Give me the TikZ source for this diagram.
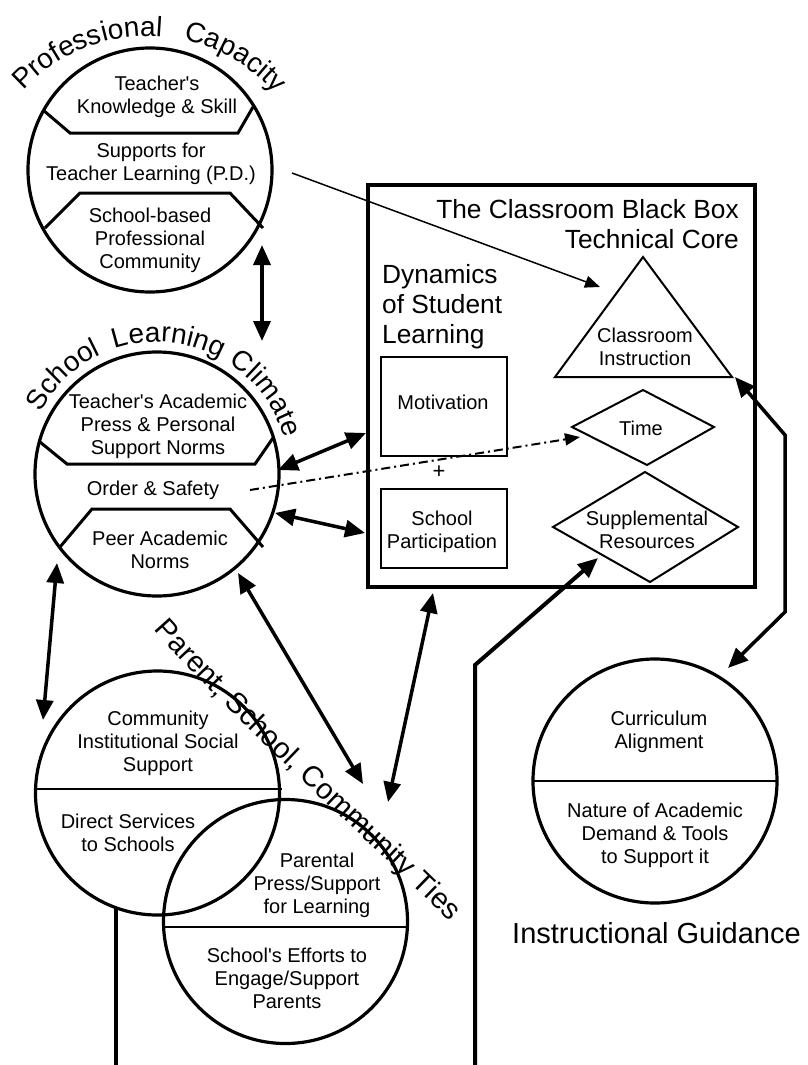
\documentclass[tikz,border=0pt]{standalone}
\usepackage{fontspec}
\setmainfont{Liberation Sans}
\usetikzlibrary{arrows.meta,decorations.text}

\newcommand\bodyfont{\fontsize{20}{23}\selectfont}
\newcommand\titlefont{\fontsize{26.3}{30}\selectfont}
\newcommand\labelfont{\fontsize{29}{34}\selectfont}
\newcommand\arcfont{\fontsize{28}{34}\selectfont}
\newcommand\bodystrut{\rule{0pt}{15pt}}
\newcommand\titlestrut{\rule{0pt}{20pt}}
\newcommand\apos{\textquotesingle}

\begin{document}
\begin{tikzpicture}[x=1pt,y=1pt,
  ring/.style={circle, draw, line width=3.2pt, minimum size=244pt, inner sep=0pt},
  seam/.style={line width=3pt, line join=miter},
  split/.style={line width=2pt},
  txt/.style={font=\bodyfont, align=center, anchor=north, inner sep=0pt},
  shapeline/.style={line width=2pt, line join=miter},
  boxline/.style={line width=2.5pt},
  both/.style={line width=3.5pt, line join=miter,
    {Triangle[length=20pt,width=17pt]}-{Triangle[length=20pt,width=17pt]}},
  one/.style={line width=4pt, line join=miter, -{Triangle[length=20pt,width=17pt]}},
  thin/.style={line width=1.5pt, -{Triangle[length=15pt,width=12pt]}},
  dashdot/.style={line width=2pt, dash pattern=on 9pt off 4pt on 2pt off 4pt,
    -{Triangle[length=15pt,width=12pt]}},
  arcword/.style={decorate, decoration={text along path, text align=center,
    text={|\arcfont|#1}}},
  pathlabel/.style={decorate, decoration={text along path, text align=center,
    text={|\labelfont|#1}}}
]
\useasboundingbox (0,0) rectangle (808,-1065);

% ---------- circles ----------
\node[ring] (pc)  at (150,-170) {};
\node[ring] (slc) at (157,-474) {};
\node[ring] (cis) at (157.5,-793) {};
\node[ring] (pst) at (285.5,-921.5) {};
\node[ring] (ig)  at (655,-781) {};

% bands inside the first two circles
\draw[seam] (43,-110) -- (70,-133) -- (238,-133) -- (253,-107);
\draw[seam] (45,-228) -- (80,-193) -- (230,-193) -- (263,-228);
\draw[seam] (40,-442) -- (67,-464) -- (255,-464) -- (273,-438);
\draw[seam] (60,-547) -- (92,-509) -- (230,-509) -- (263,-547);

% halves of the lower circles
\draw[split] (36,-789) -- (282,-789);
\draw[split] (163,-927) -- (408,-927);
\draw[split] (533,-781) -- (777,-781);

% ---------- classroom core ----------
\draw[line width=4pt] (368,-185) rectangle (755,-587);
\draw[boxline] (381,-357) rectangle (507,-456);
\draw[boxline] (381,-489) rectangle (507,-568);
\draw[shapeline] (643,-257) -- (555,-377) -- (732,-377) -- cycle;
\draw[shapeline] (572,-427) -- (643,-390) -- (714,-427) -- (647,-465) -- cycle;
\draw[shapeline] (553,-527) -- (645,-472) -- (738,-527) -- (650,-582) -- cycle;

% ---------- texts ----------
\node[txt] (t1)  at (157,-75)  {\bodystrut Teacher\apos s\\Knowledge \& Skill};
\node[txt] (t2)  at (151,-142) {\bodystrut Supports for\\Teacher Learning (P.D.)};
\node[txt] (t3)  at (150,-207) {\bodystrut School-based\\Professional\\Community};
\node[txt] (t4)  at (158,-393) {\bodystrut Teacher\apos s Academic\\Press \& Personal\\Support Norms};
\node[txt] (t5)  at (153,-480) {\bodystrut Order \& Safety};
\node[txt] (t6)  at (160,-530) {\bodystrut Peer Academic\\Norms};
\node[txt] (t7)  at (158,-710) {\bodystrut Community\\Institutional Social\\Support};
\node[txt] (t8)  at (128,-813) {\bodystrut Direct Services\\to Schools};
\node[txt] (t9)  at (317,-852) {\bodystrut Parental\\Press/Support\\for Learning};
\node[txt] (t10) at (287,-947) {\bodystrut School\apos s Efforts to\\Engage/Support\\Parents};
\node[txt] (t11) at (659,-710) {\bodystrut Curriculum\\Alignment};
\node[txt] (t12) at (655,-802) {\bodystrut Nature of Academic\\Demand \& Tools\\to Support it};
\node[txt] (t13) at (645,-327) {\bodystrut Classroom\\Instruction};
\node[txt] (t14) at (641,-420) {\bodystrut Time};
\node[txt] (t15) at (647,-510) {\bodystrut Supplemental\\Resources};
\node[txt] (t16) at (443,-394) {\bodystrut Motivation};
\node[txt] (t17) at (442,-510) {\bodystrut School\\Participation};
\node[font=\fontsize{22}{23}\selectfont, inner sep=0pt] (plus) at (439,-472) {+};

\node[font=\titlefont, align=right, anchor=north east, inner sep=0pt] (title)
  at (739,-198) {\titlestrut The Classroom Black Box\\Technical Core};
\node[font=\titlefont, align=left, anchor=north west, inner sep=0pt] (dyn)
  at (382,-263) {\titlestrut Dynamics\\of Student\\Learning};
\node[font=\labelfont, anchor=base, inner sep=0pt] (igl) at (656.5,-943) {Instructional Guidance};

% curved headings, one word per arc, each centred on its arc
\path[arcword={Professional}] (148,-205) ++(141.4:169) arc[start angle=141.4, end angle=81.4, radius=169];
\path[arcword={Capacity}] (148,-205) ++(89.5:169) arc[start angle=89.5, end angle=29.5, radius=169];
\path[arcword={School}] (157,-474) ++(163.5:132) arc[start angle=163.5, end angle=103.5, radius=132];
\path[arcword={Learning}] (157,-474) ++(115:132) arc[start angle=115, end angle=55, radius=132];
\path[arcword={Climate}] (157,-474) ++(66.5:132) arc[start angle=66.5, end angle=6.5, radius=132];
\path[pathlabel={Parent, School, Community Ties}] (140.6,-615) .. controls (239,-729) and (359,-829) .. (463.6,-935.5);

% ---------- connector ends ----------
\coordinate (pcS)   at (262,-245);
\coordinate (slcN)  at (262,-341);
\coordinate (slcE1) at (278,-470);
\coordinate (motW)  at (366,-433);
\coordinate (slcE2) at (275,-513);
\coordinate (parW)  at (365,-533);
\coordinate (slcSW) at (57,-563);
\coordinate (cisN)  at (43,-720);
\coordinate (slcS)  at (238,-573);
\coordinate (pstN)  at (363,-784);
\coordinate (coreS) at (433,-593);
\coordinate (pstNE) at (388,-802);
\coordinate (igN)   at (728,-668);
\coordinate (bendA) at (785,-612);
\coordinate (bendB) at (785,-435);
\coordinate (triE)  at (735,-377);
\coordinate (footR) at (475,-1065);
\coordinate (bendC) at (475,-665);
\coordinate (supW)  at (598,-558);
\coordinate (cisS)  at (116,-909);
\coordinate (footL) at (116,-1065);
\coordinate (pdE)   at (292,-173);
\coordinate (triW)  at (600,-287);
\coordinate (ordE)  at (250,-490);
\coordinate (timeW) at (580,-437);

% ---------- connectors ----------
\draw[both] (pcS) -- (slcN);
\draw[both] (slcE1) -- (motW);
\draw[both] (slcE2) -- (parW);
\draw[both] (slcSW) -- (cisN);
\draw[both] (slcS) -- (pstN);
\draw[both] (coreS) -- (pstNE);
\draw[both] (igN) -- (bendA) -- (bendB) -- (triE);
\draw[one] (footR) -- (bendC) -- (supW);
\draw[line width=4pt] (cisS) -- (footL);
\draw[thin] (pdE) -- (triW);
\draw[dashdot] (ordE) -- (timeW);
\end{tikzpicture}
\end{document}
